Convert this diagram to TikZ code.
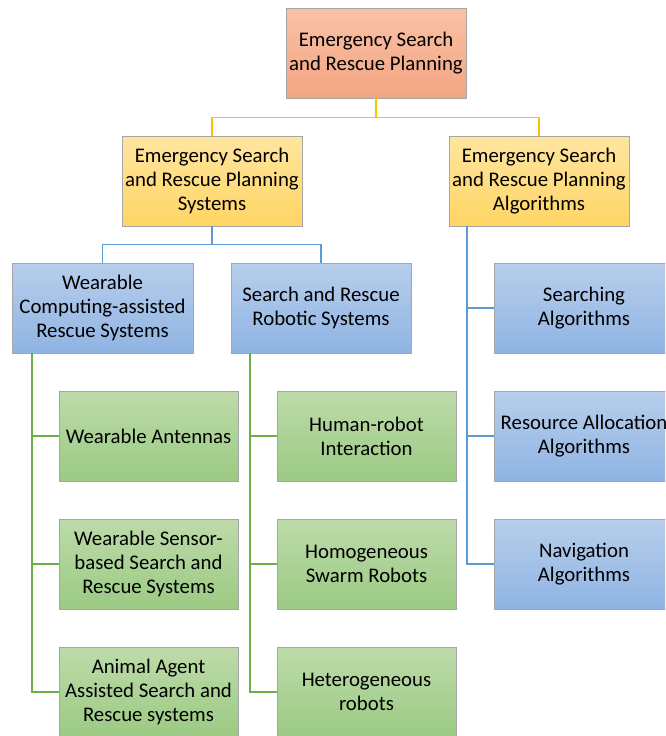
\documentclass[tikz,border=0pt]{standalone}
\usepackage{fontspec}
\setmainfont{Carlito}
\usetikzlibrary{positioning}
\definecolor{ycol}{RGB}{255,192,0}
\definecolor{bcol}{RGB}{91,155,213}
\definecolor{gcol}{RGB}{112,173,71}
\tikzset{every picture/.style={x=0.75pt,y=-0.75pt}}
\tikzset{box/.style={rectangle,draw=black!35,line width=0.6pt,minimum width=135pt,minimum height=67.5pt,inner sep=0pt,align=center,font=\fontsize{15.6}{18}\selectfont}}
\tikzset{root/.style={box,top color={rgb,255:red,248;green,194;blue,166},bottom color={rgb,255:red,244;green,165;blue,130}}}
\tikzset{sys/.style={box,top color={rgb,255:red,255;green,229;blue,160},bottom color={rgb,255:red,255;green,213;blue,100}}}
\tikzset{sub/.style={box,top color={rgb,255:red,183;green,206;blue,236},bottom color={rgb,255:red,143;green,180;blue,227}}}
\tikzset{leaf/.style={box,minimum width=134.25pt,top color={rgb,255:red,189;green,219;blue,170},bottom color={rgb,255:red,155;green,202;blue,131}}}
\tikzset{yline/.style={ycol,line width=1pt}}
\tikzset{bline/.style={bcol,line width=1pt}}
\tikzset{gline/.style={gcol,line width=1pt}}

\begin{document}
\begin{tikzpicture}
\useasboundingbox (0,0) rectangle (665,736);
\clip (0,0) rectangle (665,736);
% top level
\node [root] (plan) at (376,53) {Emergency Search\\and Rescue Planning};
\node [sys] (psys) at (212,181) {Emergency Search\\and Rescue Planning\\Systems};
\node [sys] (palg) at (539,181) {Emergency Search\\and Rescue Planning\\Algorithms};
\draw [yline] (plan.south) -- ++(0,19) -| (psys.north);
\draw [yline] (plan.south) -- ++(0,19) -| (palg.north);
% systems
\node [sub,minimum width=135.75pt] (wear) at (102.5,308) {Wearable\\Computing-assisted\\Rescue Systems};
\node [sub] (robo) at (321,308) {Search and Rescue\\Robotic Systems};
\draw [bline] (psys.south) -- ++(0,18) -| (wear.north);
\draw [bline] (psys.south) -- ++(0,18) -| (robo.north);
% algorithms
\node [sub] (srch) at (584,308) {Searching\\Algorithms};
\node [sub] (ralloc) at (584,436) {Resource Allocation\\Algorithms};
\node [sub] (navi) at (584,564) {Navigation\\Algorithms};
\coordinate (aspine) at (467,226);
\draw [bline] (aspine) |- (srch.west);
\draw [bline] (aspine) |- (ralloc.west);
\draw [bline] (aspine) |- (navi.west);
% wearable leaves
\node [leaf] (ant) at (148.5,436) {Wearable Antennas};
\node [leaf] (sens) at (148.5,564) {Wearable Sensor-\\based Search and\\Rescue Systems};
\node [leaf] (anim) at (148.5,692) {Animal Agent\\Assisted Search and\\Rescue systems};
\coordinate (wspine) at (32,353);
\draw [gline] (wspine) |- (ant.west);
\draw [gline] (wspine) |- (sens.west);
\draw [gline] (wspine) |- (anim.west);
% robotic leaves
\node [leaf] (hri) at (366.5,436) {Human-robot\\Interaction};
\node [leaf] (swarm) at (366.5,564) {Homogeneous\\Swarm Robots};
\node [leaf] (hetero) at (366.5,692) {Heterogeneous\\robots};
\coordinate (rspine) at (250,353);
\draw [gline] (rspine) |- (hri.west);
\draw [gline] (rspine) |- (swarm.west);
\draw [gline] (rspine) |- (hetero.west);
\end{tikzpicture}
\end{document}
